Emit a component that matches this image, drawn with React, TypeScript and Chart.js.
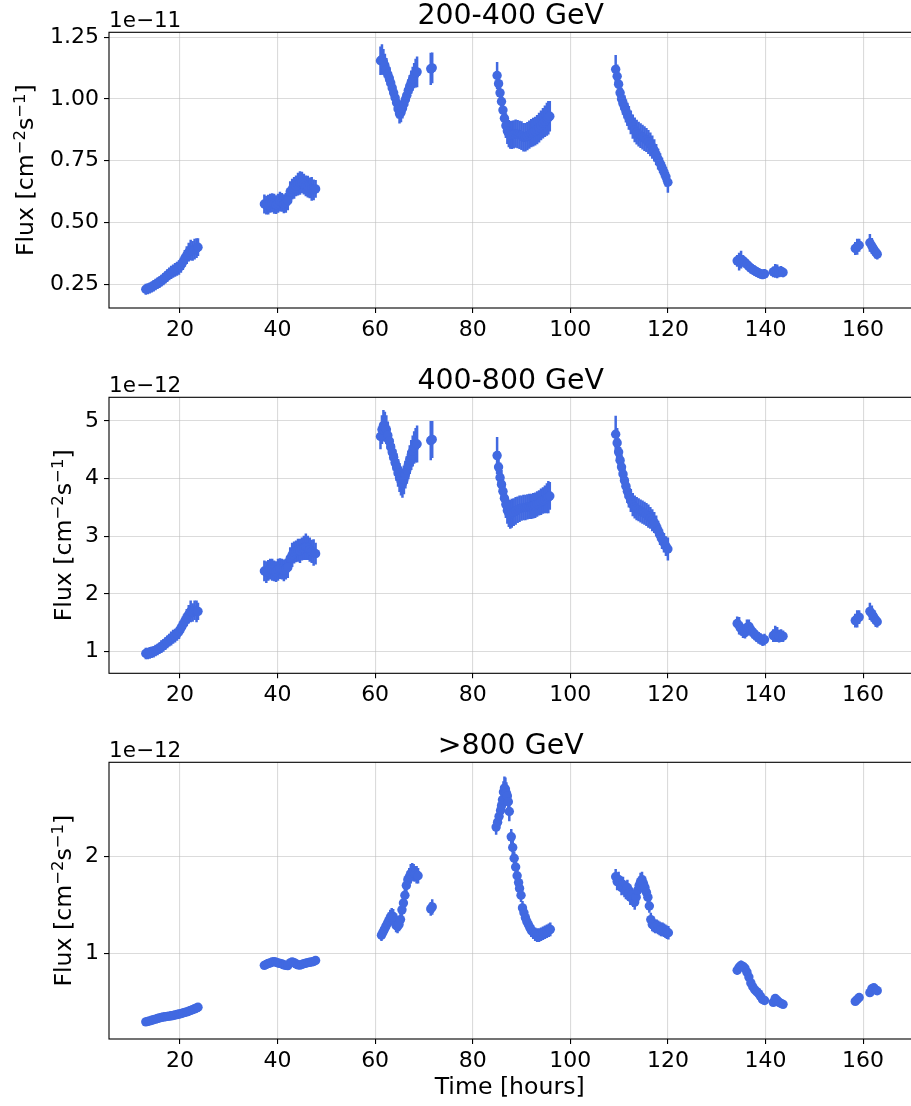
import React, { useEffect, useRef } from 'react';
import { Chart, registerables } from 'chart.js';

Chart.register(...registerables);

// ---------------- DATA ----------------
const xTickValues = [20, 40, 60, 80, 100, 120, 140, 160];

// observation times (hours) for the 200-400 and 400-800 GeV bands
const hoursLow = [
  13.0, 13.4, 13.8, 14.2, 14.6, 15.0, 15.4, 15.8, 16.2, 16.6, 17.0, 17.4, 17.8, 18.2, 18.6, 19.0, 19.4, 19.8, 20.2, 20.6, 21.0, 21.4, 21.8, 22.2, 22.6, 23.0, 23.4, 23.7,
  37.3, 37.7, 38.1, 38.5, 38.9, 39.3, 39.7, 40.1, 40.5, 40.9, 41.3, 41.7, 42.1, 42.6, 43.0, 43.4, 43.8, 44.2, 44.6, 45.0, 45.4, 45.8, 46.2, 46.6, 47.0, 47.4, 47.8,
  61.1, 61.4, 61.7, 62.0, 62.3, 62.6, 62.9, 63.2, 63.5, 63.8, 64.1, 64.4, 64.7, 65.0, 65.3, 65.6, 65.9, 66.2, 66.5, 66.8, 67.1, 67.4, 67.7, 68.0, 68.3, 68.6, 71.4, 71.7,
  85.0, 85.3, 85.6, 85.9, 86.2, 86.5, 86.8, 87.1, 87.4, 87.7, 88.0, 88.4, 88.8, 89.2, 89.6, 90.0, 90.4, 90.8, 91.2, 91.6, 92.0, 92.4, 92.8, 93.2, 93.6, 94.0, 94.4, 94.8, 95.2, 95.5, 95.8,
  109.3, 109.6, 109.9, 110.2, 110.5, 110.8, 111.1, 111.4, 111.7, 112.0, 112.4, 112.8, 113.2, 113.6, 114.0, 114.4, 114.8, 115.2, 115.6, 116.0, 116.4, 116.8, 117.2, 117.6, 118.0, 118.4, 118.8, 119.2, 119.6, 120.0,
  134.2, 134.6, 135.0, 135.4, 135.8, 136.2, 136.6, 137.0, 137.4, 137.8, 138.2, 138.6, 139.0, 139.4, 139.8, 141.6, 142.0, 142.4, 142.8, 143.2, 143.6,
  158.4, 158.8, 159.2, 161.4, 161.8, 162.2, 162.6, 162.9,
];

// 200-400 GeV, units of 1e-11 cm^-2 s^-1
const flux200 = [
  0.230, 0.232, 0.235, 0.239, 0.244, 0.249, 0.254, 0.259, 0.265, 0.271, 0.278, 0.285, 0.292, 0.298, 0.303, 0.308, 0.313, 0.318, 0.327, 0.340, 0.355, 0.368, 0.380, 0.388, 0.385, 0.392, 0.396, 0.400,
  0.575, 0.570, 0.572, 0.578, 0.580, 0.576, 0.572, 0.578, 0.585, 0.582, 0.576, 0.580, 0.588, 0.625, 0.635, 0.640, 0.648, 0.655, 0.660, 0.662, 0.655, 0.648, 0.645, 0.640, 0.636, 0.632, 0.636,
  1.155, 1.160, 1.150, 1.135, 1.118, 1.100, 1.085, 1.065, 1.045, 1.025, 1.005, 0.985, 0.960, 0.940, 0.945, 0.962, 0.980, 0.998, 1.015, 1.035, 1.052, 1.068, 1.082, 1.095, 1.105, 1.110, 1.122, 1.126,
  1.095, 1.062, 1.025, 0.990, 0.955, 0.922, 0.892, 0.870, 0.860, 0.855, 0.855, 0.857, 0.860, 0.858, 0.855, 0.852, 0.845, 0.845, 0.850, 0.856, 0.862, 0.866, 0.870, 0.876, 0.884, 0.893, 0.902, 0.910, 0.918, 0.924, 0.930,
  1.120, 1.092, 1.060, 1.025, 1.000, 0.982, 0.968, 0.952, 0.938, 0.924, 0.905, 0.888, 0.875, 0.866, 0.858, 0.852, 0.846, 0.840, 0.834, 0.826, 0.816, 0.805, 0.792, 0.775, 0.757, 0.740, 0.722, 0.704, 0.685, 0.663,
  0.345, 0.342, 0.350, 0.345, 0.338, 0.330, 0.322, 0.315, 0.310, 0.305, 0.300, 0.296, 0.292, 0.290, 0.292, 0.300, 0.304, 0.302, 0.300, 0.302, 0.298,
  0.395, 0.402, 0.408, 0.418, 0.405, 0.392, 0.380, 0.372,
];
const err200 = [
  0.022, 0.022, 0.022, 0.022, 0.023, 0.023, 0.023, 0.024, 0.024, 0.025, 0.025, 0.026, 0.026, 0.027, 0.027, 0.028, 0.028, 0.029, 0.030, 0.032, 0.034, 0.036, 0.038, 0.042, 0.040, 0.042, 0.040, 0.036,
  0.038, 0.038, 0.040, 0.038, 0.038, 0.040, 0.038, 0.038, 0.040, 0.038, 0.038, 0.040, 0.038, 0.042, 0.042, 0.044, 0.042, 0.046, 0.048, 0.044, 0.042, 0.042, 0.044, 0.042, 0.048, 0.042, 0.036,
  0.058, 0.062, 0.052, 0.048, 0.048, 0.045, 0.045, 0.043, 0.043, 0.043, 0.041, 0.041, 0.039, 0.039, 0.039, 0.041, 0.041, 0.043, 0.043, 0.045, 0.045, 0.047, 0.049, 0.051, 0.058, 0.062, 0.065, 0.062,
  0.055, 0.045, 0.045, 0.045, 0.045, 0.045, 0.050, 0.052, 0.055, 0.056, 0.057, 0.057, 0.057, 0.057, 0.057, 0.058, 0.058, 0.058, 0.057, 0.057, 0.057, 0.058, 0.058, 0.059, 0.060, 0.060, 0.062, 0.064, 0.067, 0.068, 0.062,
  0.058, 0.048, 0.045, 0.046, 0.046, 0.046, 0.047, 0.047, 0.047, 0.048, 0.048, 0.049, 0.050, 0.050, 0.050, 0.050, 0.050, 0.050, 0.049, 0.049, 0.048, 0.047, 0.045, 0.043, 0.042, 0.040, 0.040, 0.040, 0.040, 0.042,
  0.024, 0.036, 0.036, 0.024, 0.022, 0.022, 0.022, 0.022, 0.021, 0.021, 0.020, 0.020, 0.020, 0.020, 0.020, 0.022, 0.028, 0.028, 0.022, 0.022, 0.020,
  0.026, 0.032, 0.026, 0.036, 0.032, 0.027, 0.027, 0.022,
];

// 400-800 GeV, units of 1e-12 cm^-2 s^-1
const flux400 = [
  0.97, 0.97, 0.98, 0.99, 1.00, 1.02, 1.04, 1.06, 1.09, 1.11, 1.14, 1.17, 1.20, 1.23, 1.26, 1.28, 1.31, 1.35, 1.41, 1.47, 1.53, 1.59, 1.65, 1.70, 1.68, 1.72, 1.70, 1.70,
  2.40, 2.38, 2.41, 2.43, 2.42, 2.40, 2.39, 2.42, 2.44, 2.43, 2.41, 2.43, 2.46, 2.62, 2.68, 2.72, 2.74, 2.76, 2.75, 2.78, 2.80, 2.82, 2.80, 2.77, 2.74, 2.72, 2.70,
  4.73, 4.85, 4.92, 4.90, 4.85, 4.75, 4.65, 4.55, 4.46, 4.37, 4.28, 4.20, 4.10, 4.02, 3.96, 3.92, 3.98, 4.07, 4.15, 4.24, 4.33, 4.41, 4.48, 4.54, 4.58, 4.60, 4.66, 4.68,
  4.40, 4.20, 4.02, 3.90, 3.78, 3.66, 3.55, 3.45, 3.40, 3.38, 3.40, 3.42, 3.44, 3.46, 3.48, 3.49, 3.50, 3.50, 3.51, 3.52, 3.52, 3.53, 3.54, 3.56, 3.58, 3.60, 3.62, 3.64, 3.66, 3.68, 3.70,
  4.77, 4.62, 4.46, 4.32, 4.20, 4.08, 3.97, 3.87, 3.78, 3.70, 3.62, 3.55, 3.51, 3.48, 3.46, 3.44, 3.42, 3.40, 3.38, 3.35, 3.32, 3.28, 3.24, 3.18, 3.10, 3.02, 2.95, 2.89, 2.83, 2.78,
  1.49, 1.45, 1.40, 1.35, 1.33, 1.42, 1.44, 1.38, 1.34, 1.30, 1.27, 1.24, 1.22, 1.20, 1.21, 1.28, 1.31, 1.30, 1.27, 1.28, 1.27,
  1.54, 1.57, 1.60, 1.70, 1.66, 1.60, 1.55, 1.52,
];
const err400 = [
  0.10, 0.10, 0.10, 0.10, 0.10, 0.10, 0.10, 0.10, 0.11, 0.11, 0.11, 0.11, 0.11, 0.12, 0.12, 0.12, 0.12, 0.13, 0.13, 0.14, 0.14, 0.15, 0.16, 0.19, 0.16, 0.17, 0.19, 0.15,
  0.18, 0.19, 0.18, 0.18, 0.19, 0.18, 0.18, 0.19, 0.18, 0.18, 0.19, 0.18, 0.18, 0.19, 0.21, 0.19, 0.19, 0.20, 0.21, 0.20, 0.21, 0.23, 0.21, 0.21, 0.20, 0.23, 0.19,
  0.22, 0.25, 0.27, 0.26, 0.25, 0.24, 0.23, 0.23, 0.23, 0.23, 0.23, 0.24, 0.24, 0.25, 0.25, 0.25, 0.25, 0.24, 0.24, 0.25, 0.25, 0.26, 0.27, 0.28, 0.30, 0.32, 0.34, 0.32,
  0.32, 0.28, 0.26, 0.25, 0.24, 0.23, 0.23, 0.23, 0.24, 0.25, 0.25, 0.24, 0.24, 0.23, 0.23, 0.22, 0.22, 0.22, 0.22, 0.22, 0.22, 0.22, 0.22, 0.22, 0.22, 0.23, 0.23, 0.24, 0.26, 0.28, 0.24,
  0.32, 0.26, 0.24, 0.23, 0.22, 0.22, 0.21, 0.21, 0.20, 0.20, 0.20, 0.20, 0.20, 0.20, 0.20, 0.20, 0.20, 0.20, 0.20, 0.20, 0.19, 0.19, 0.18, 0.18, 0.17, 0.17, 0.17, 0.17, 0.17, 0.20,
  0.12, 0.15, 0.12, 0.11, 0.10, 0.14, 0.12, 0.11, 0.11, 0.10, 0.10, 0.10, 0.10, 0.10, 0.10, 0.11, 0.14, 0.13, 0.11, 0.11, 0.10,
  0.12, 0.15, 0.12, 0.15, 0.14, 0.12, 0.12, 0.10,
];

// observation times (hours) for the >800 GeV band
const hoursHigh = [
  13.0, 13.4, 13.8, 14.2, 14.6, 15.0, 15.4, 15.8, 16.2, 16.6, 17.0, 17.4, 17.8, 18.2, 18.6, 19.0, 19.4, 19.8, 20.2, 20.6, 21.0, 21.4, 21.8, 22.2, 22.6, 23.0, 23.4, 23.7,
  37.3, 37.7, 38.1, 38.5, 38.9, 39.3, 39.7, 40.1, 40.5, 40.9, 41.3, 41.7, 42.1, 42.6, 43.0, 43.4, 43.8, 44.2, 44.6, 45.0, 45.4, 45.8, 46.2, 46.6, 47.0, 47.4, 47.8,
  61.3, 61.6, 61.9, 62.2, 62.5, 62.8, 63.1, 63.4, 63.7, 64.0, 64.3, 64.6, 64.9, 65.2, 65.5, 65.8, 66.1, 66.4, 66.7, 67.0, 67.3, 67.6, 67.9, 68.2, 68.5, 68.8, 71.4, 71.7,
  84.8, 85.1, 85.4, 85.7, 85.9, 86.1, 86.3, 86.5, 86.7, 86.9, 87.1, 87.3, 87.5, 87.9, 88.2, 88.5, 88.8, 89.1, 89.4, 89.6, 89.9, 90.2, 90.5, 90.8, 91.1, 91.4, 91.7, 92.0, 92.4, 92.8, 93.2, 93.6, 94.0, 94.4, 94.8, 95.2, 95.6, 95.9,
  109.3, 109.6, 109.9, 110.2, 110.5, 110.8, 111.1, 111.4, 111.7, 112.0, 112.3, 112.6, 112.9, 113.2, 113.5, 113.8, 114.1, 114.4, 114.7, 115.0, 115.3, 115.6, 115.9, 116.2, 116.5, 116.8, 117.1, 117.4, 117.7, 118.0, 118.3, 118.6, 118.9, 119.2, 119.5, 119.8, 120.1,
  134.2, 134.6, 135.0, 135.4, 135.8, 136.2, 136.6, 137.0, 137.4, 137.8, 138.2, 138.6, 139.0, 139.4, 139.8, 141.6, 142.0, 142.4, 142.8, 143.2, 143.6,
  158.4, 158.8, 159.2, 161.4, 161.8, 162.2, 162.6, 162.9,
];

// >800 GeV, units of 1e-12 cm^-2 s^-1
const flux800 = [
  0.300, 0.305, 0.310, 0.316, 0.322, 0.328, 0.334, 0.340, 0.346, 0.350, 0.353, 0.356, 0.359, 0.362, 0.366, 0.370, 0.375, 0.380, 0.385, 0.391, 0.397, 0.403, 0.410, 0.418, 0.426, 0.434, 0.442, 0.450,
  0.880, 0.890, 0.900, 0.905, 0.915, 0.918, 0.912, 0.905, 0.900, 0.895, 0.885, 0.880, 0.878, 0.905, 0.915, 0.908, 0.895, 0.885, 0.882, 0.890, 0.898, 0.902, 0.908, 0.912, 0.915, 0.920, 0.930,
  1.19, 1.22, 1.25, 1.28, 1.31, 1.34, 1.37, 1.39, 1.38, 1.33, 1.29, 1.28, 1.30, 1.35, 1.45, 1.52, 1.60, 1.70, 1.76, 1.79, 1.82, 1.84, 1.83, 1.82, 1.81, 1.80, 1.46, 1.48,
  2.30, 2.35, 2.41, 2.47, 2.52, 2.58, 2.66, 2.70, 2.69, 2.65, 2.62, 2.56, 2.46, 2.20, 2.09, 1.98, 1.89, 1.80, 1.73, 1.67, 1.60, 1.47, 1.42, 1.37, 1.33, 1.30, 1.27, 1.24, 1.22, 1.20, 1.19, 1.19, 1.20, 1.21, 1.22, 1.23, 1.24, 1.25,
  1.79, 1.74, 1.76, 1.72, 1.68, 1.71, 1.66, 1.64, 1.68, 1.62, 1.58, 1.60, 1.56, 1.53, 1.58, 1.65, 1.70, 1.74, 1.76, 1.72, 1.68, 1.63, 1.58, 1.49, 1.35, 1.30, 1.29, 1.28, 1.28, 1.27, 1.26, 1.25, 1.25, 1.24, 1.23, 1.22, 1.215,
  0.83, 0.86, 0.88, 0.87, 0.85, 0.81, 0.76, 0.70, 0.66, 0.63, 0.61, 0.59, 0.56, 0.53, 0.52, 0.50, 0.54, 0.52, 0.50, 0.49, 0.48,
  0.51, 0.53, 0.55, 0.60, 0.64, 0.65, 0.63, 0.62,
];
const err800 = [
  0.022, 0.022, 0.022, 0.022, 0.022, 0.023, 0.023, 0.023, 0.023, 0.024, 0.024, 0.024, 0.024, 0.025, 0.025, 0.025, 0.025, 0.026, 0.026, 0.026, 0.027, 0.027, 0.027, 0.028, 0.028, 0.028, 0.029, 0.030,
  0.038, 0.038, 0.040, 0.038, 0.040, 0.038, 0.038, 0.040, 0.038, 0.038, 0.040, 0.038, 0.038, 0.040, 0.038, 0.040, 0.038, 0.040, 0.038, 0.040, 0.038, 0.040, 0.038, 0.040, 0.038, 0.042, 0.040,
  0.06, 0.06, 0.06, 0.07, 0.07, 0.08, 0.08, 0.08, 0.08, 0.07, 0.07, 0.07, 0.07, 0.07, 0.08, 0.08, 0.08, 0.09, 0.09, 0.09, 0.10, 0.09, 0.09, 0.08, 0.09, 0.08, 0.07, 0.08,
  0.08, 0.08, 0.09, 0.09, 0.10, 0.10, 0.11, 0.12, 0.12, 0.11, 0.10, 0.10, 0.10, 0.08, 0.08, 0.07, 0.07, 0.07, 0.07, 0.07, 0.07, 0.07, 0.07, 0.07, 0.07, 0.07, 0.07, 0.07, 0.07, 0.07, 0.07, 0.07, 0.07, 0.07, 0.07, 0.07, 0.07, 0.07,
  0.08, 0.09, 0.08, 0.08, 0.08, 0.08, 0.08, 0.08, 0.08, 0.08, 0.08, 0.08, 0.08, 0.08, 0.08, 0.08, 0.08, 0.09, 0.08, 0.08, 0.08, 0.08, 0.08, 0.07, 0.07, 0.07, 0.07, 0.07, 0.07, 0.07, 0.07, 0.07, 0.07, 0.07, 0.07, 0.07, 0.07,
  0.045, 0.045, 0.050, 0.045, 0.045, 0.045, 0.045, 0.045, 0.042, 0.040, 0.040, 0.040, 0.038, 0.038, 0.038, 0.038, 0.045, 0.040, 0.038, 0.038, 0.038,
  0.035, 0.035, 0.035, 0.042, 0.042, 0.038, 0.035, 0.035,
];

const yTicks200 = [0.25, 0.5, 0.75, 1.0, 1.25];
const yTicks400 = [1, 2, 3, 4, 5];
const yTicks800 = [1, 2];

// ---------------- STYLE / LAYOUT ----------------
const COLOR = '#4169e1';
const FONT = '"DejaVu Sans", "Liberation Sans", sans-serif';
const X_MIN = 5.46;
const X_MAX = 170.5;
const CANVAS_W = 919;
const AXIS_LEFT = 109;

type Panel = {
  title: string;
  offset: string;
  hours: number[];
  flux: number[];
  err: number[];
  yTicks: number[];
  digits: number;
  yMin: number;
  yMax: number;
  top: number;
  height: number;
  areaTop: number;
  areaBottom: number;
  ylabelX: number;
  xlabel: boolean;
};

const panels: Panel[] = [
  { title: '200-400 GeV', offset: '1e\u221211', hours: hoursLow, flux: flux200, err: err200, yTicks: yTicks200, digits: 2,
    yMin: 0.154, yMax: 1.27, top: 0, height: 350, areaTop: 32.3, areaBottom: 308, ylabelX: 32.5, xlabel: false },
  { title: '400-800 GeV', offset: '1e\u221212', hours: hoursLow, flux: flux400, err: err400, yTicks: yTicks400, digits: 0,
    yMin: 0.626, yMax: 5.41, top: 350, height: 370, areaTop: 47.3, areaBottom: 323.3, ylabelX: 70.7, xlabel: false },
  { title: '>800 GeV', offset: '1e\u221212', hours: hoursHigh, flux: flux800, err: err800, yTicks: yTicks800, digits: 0,
    yMin: 0.124, yMax: 2.965, top: 720, height: 386, areaTop: 42.3, areaBottom: 319, ylabelX: 70.7, xlabel: true },
];

function makePlugin(p: Panel) {
  return {
    id: 'mplDecor',
    beforeDatasetsDraw(chart: any) {
      const { ctx, chartArea, scales } = chart;
      const xs = scales.x, ys = scales.y;
      ctx.save();
      ctx.beginPath();
      ctx.rect(chartArea.left, chartArea.top, chartArea.right - chartArea.left, chartArea.bottom - chartArea.top);
      ctx.clip();
      ctx.strokeStyle = COLOR;
      ctx.lineWidth = 2.5;
      for (let i = 0; i < p.hours.length; i++) {
        const px = xs.getPixelForValue(p.hours[i]);
        ctx.beginPath();
        ctx.moveTo(px, ys.getPixelForValue(p.flux[i] - p.err[i]));
        ctx.lineTo(px, ys.getPixelForValue(p.flux[i] + p.err[i]));
        ctx.stroke();
      }
      ctx.restore();
    },
    afterDraw(chart: any) {
      const { ctx, chartArea } = chart;
      const { left, right, top, bottom } = chartArea;
      ctx.save();
      // frame
      ctx.strokeStyle = '#000';
      ctx.lineWidth = 1.1;
      ctx.strokeRect(left, top, right - left, bottom - top);
      ctx.fillStyle = '#000';
      // title
      ctx.font = `28.4px ${FONT}`;
      ctx.textAlign = 'center';
      ctx.textBaseline = 'alphabetic';
      ctx.fillText(p.title, (left + right) / 2 - 1, top - 8.5);
      // offset text
      ctx.font = `21.5px ${FONT}`;
      ctx.textAlign = 'left';
      ctx.fillText(p.offset, left, top - 5.2);
      // y label with superscripts
      const big = `23.6px ${FONT}`;
      const small = `16.5px ${FONT}`;
      const parts: [string, string, number][] = [
        ['Flux [cm', big, 0],
        ['\u22122', small, -8],
        ['s', big, 0],
        ['\u22121', small, -8],
        [']', big, 0],
      ];
      let total = 0;
      const widths = parts.map(([t, f]) => { ctx.font = f; const w = ctx.measureText(t).width; total += w; return w; });
      ctx.translate(p.ylabelX, (top + bottom) / 2);
      ctx.rotate(-Math.PI / 2);
      let cx = -total / 2;
      parts.forEach(([t, f, dy], i) => {
        ctx.font = f;
        ctx.fillText(t, cx, dy);
        cx += widths[i];
      });
      ctx.restore();
      if (p.xlabel) {
        ctx.save();
        ctx.fillStyle = '#000';
        ctx.font = `23.6px ${FONT}`;
        ctx.textAlign = 'center';
        ctx.textBaseline = 'alphabetic';
        ctx.fillText('Time [hours]', (left + right) / 2 - 2, 1094 - p.top);
        ctx.restore();
      }
    },
  };
}

function buildConfig(p: Panel): any {
  const points = p.hours.map((h, i) => ({ x: h, y: p.flux[i] }));
  const gridStyle = {
    color: 'rgba(190,190,190,0.55)',
    lineWidth: 1.1,
    tickColor: '#000',
    tickLength: 5,
    tickWidth: 1.1,
    drawTicks: true,
  };
  return {
    type: 'scatter',
    data: {
      datasets: [{
        data: points,
        pointRadius: 4.7,
        pointHoverRadius: 4.7,
        pointBackgroundColor: COLOR,
        backgroundColor: COLOR,
        borderColor: COLOR,
        pointBorderWidth: 0,
        borderWidth: 0,
        showLine: false,
      }],
    },
    options: {
      animation: false,
      responsive: false,
      maintainAspectRatio: false,
      devicePixelRatio: 1,
      events: [],
      layout: { padding: { top: p.areaTop, left: 0, right: 0, bottom: 0 } },
      plugins: { legend: { display: false }, tooltip: { enabled: false }, title: { display: false } },
      scales: {
        x: {
          type: 'linear',
          min: X_MIN,
          max: X_MAX,
          afterBuildTicks: (s: any) => { s.ticks = xTickValues.map((v) => ({ value: v })); },
          afterFit: (s: any) => { s.height = p.height - p.areaBottom; },
          grid: gridStyle,
          border: { display: false },
          ticks: {
            autoSkip: false,
            maxRotation: 0,
            minRotation: 0,
            padding: 4,
            color: '#000',
            font: { family: FONT, size: 22 },
            callback: (v: any) => String(v),
          },
        },
        y: {
          type: 'linear',
          min: p.yMin,
          max: p.yMax,
          afterBuildTicks: (s: any) => { s.ticks = p.yTicks.map((v) => ({ value: v })); },
          afterFit: (s: any) => { s.width = AXIS_LEFT; },
          grid: gridStyle,
          border: { display: false },
          ticks: {
            autoSkip: false,
            padding: 5,
            color: '#000',
            font: { family: FONT, size: 22 },
            callback: (v: any) => Number(v).toFixed(p.digits),
          },
        },
      },
    },
    plugins: [makePlugin(p)],
  };
}

export default function App() {
  const refs = [useRef<HTMLCanvasElement>(null), useRef<HTMLCanvasElement>(null), useRef<HTMLCanvasElement>(null)];

  useEffect(() => {
    const charts = panels.map((p, i) => new Chart(refs[i].current as HTMLCanvasElement, buildConfig(p)));
    return () => charts.forEach((c) => c.destroy());
  }, []);

  return (
    <div style={{ position: 'absolute', left: 0, top: 0, width: 911, height: 1106, overflow: 'hidden', background: '#fff' }}>
      {panels.map((p, i) => (
        <canvas
          key={i}
          ref={refs[i]}
          width={CANVAS_W}
          height={p.height}
          style={{ position: 'absolute', left: 0, top: p.top, width: CANVAS_W, height: p.height, display: 'block' }}
        />
      ))}
    </div>
  );
}
